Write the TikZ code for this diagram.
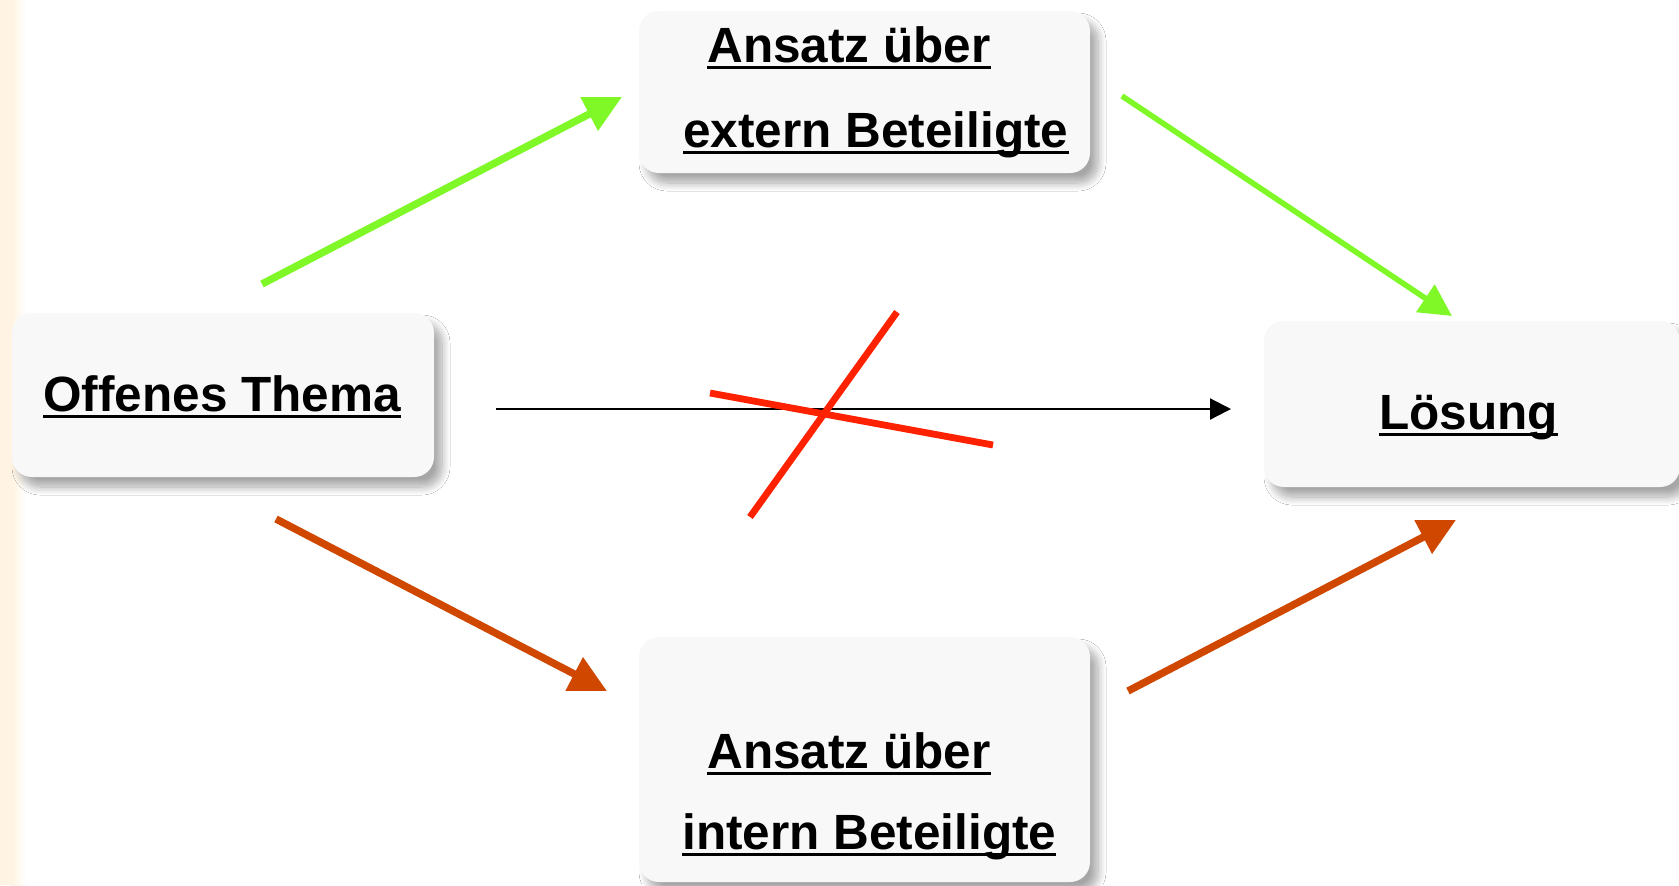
\documentclass[tikz,border=0pt]{standalone}
\usepackage{fontspec}
\setmainfont{Liberation Sans}
\usetikzlibrary{arrows.meta,shadows.blur}

\definecolor{boxfill}{HTML}{F8F8F8}
\definecolor{limegreen}{RGB}{128,248,40}
\definecolor{rust}{RGB}{208,72,0}
\definecolor{strike}{RGB}{255,34,0}
\definecolor{cream}{HTML}{FFF4E3}

% underline drawn through descenders, at a fixed depth below the baseline
\newcommand\ulword[1]{\setbox0\hbox{#1}\rlap{\rule[-3.5pt]{\wd0}{1.5pt}}\box0}

\begin{document}
\begin{tikzpicture}[x=0.5pt,y=-0.5pt,
  panel/.style={rounded corners=10pt, fill=boxfill, draw=none, inner sep=0pt,
    blur shadow={shadow xshift=4pt, shadow yshift=-5pt,
                 shadow blur radius=4pt, shadow blur steps=12, shadow opacity=35}},
  txt/.style={anchor=base west, inner sep=0pt,
    font=\fontsize{24.75pt}{43pt}\selectfont\bfseries},
  bigarrow/.style={line width=3.7pt, -{Triangle[length=18.5pt,width=18pt]}},
  smallarrow/.style={line width=2.8pt, -{Triangle[length=16pt,width=16pt]}},
  plainarrow/.style={line width=1.1pt, -{Triangle[length=10.5pt,width=10.5pt]}},
  crossline/.style={line width=3.4pt, strike}
]
\useasboundingbox (0,0) rectangle (1679,885);
\fill[white] (0,0) rectangle (1679,885);
% soft cream strip along the left edge
\fill[cream] (0,0) rectangle (12,885);
\shade[left color=cream, right color=white] (12,0) rectangle (26,885);

% boxes
\node[panel, minimum width=211pt, minimum height=82pt] (start) at (223,395) {};
\node[panel, minimum width=225.5pt, minimum height=81pt] (extern) at (864.5,92) {};
\node[panel, minimum width=208pt, minimum height=83pt] (goal) at (1472,404) {};
\node[panel, minimum width=225.5pt, minimum height=122.5pt] (intern) at (864.5,759.5) {};

% box texts
\node[txt] (startT) at (43,411) {\ulword{Offenes Thema}};
\node[txt] (externA) at (707,62) {\ulword{Ansatz über}};
\node[txt] (externB) at (683,147) {\ulword{extern Beteiligte}};
\node[txt] (goalT) at (1379,429) {\ulword{Lösung}};
\node[txt] (internA) at (707,768) {\ulword{Ansatz über}};
\node[txt] (internB) at (682,849) {\ulword{intern Beteiligte}};

% connector end points
\coordinate (g1a) at (262,284);  \coordinate (g1b) at (622,97);
\coordinate (g2a) at (1122,96);  \coordinate (g2b) at (1452,316);
\coordinate (o1a) at (276,519);  \coordinate (o1b) at (607,691);
\coordinate (o2a) at (1128,691); \coordinate (o2b) at (1456,520);
\coordinate (da) at (496,409);   \coordinate (db) at (1231,409);
\coordinate (xa) at (750,517);   \coordinate (xb) at (897,312);
\coordinate (ya) at (710,393);   \coordinate (yb) at (993,445);

% route via external parties
\draw[bigarrow, limegreen] (g1a) -- (g1b);
\draw[smallarrow, limegreen] (g2a) -- (g2b);
% route via internal parties
\draw[bigarrow, rust] (o1a) -- (o1b);
\draw[bigarrow, rust] (o2a) -- (o2b);
% direct route, crossed out
\draw[plainarrow, black] (da) -- (db);
\draw[crossline] (xa) -- (xb);
\draw[crossline] (ya) -- (yb);
\end{tikzpicture}
\end{document}
